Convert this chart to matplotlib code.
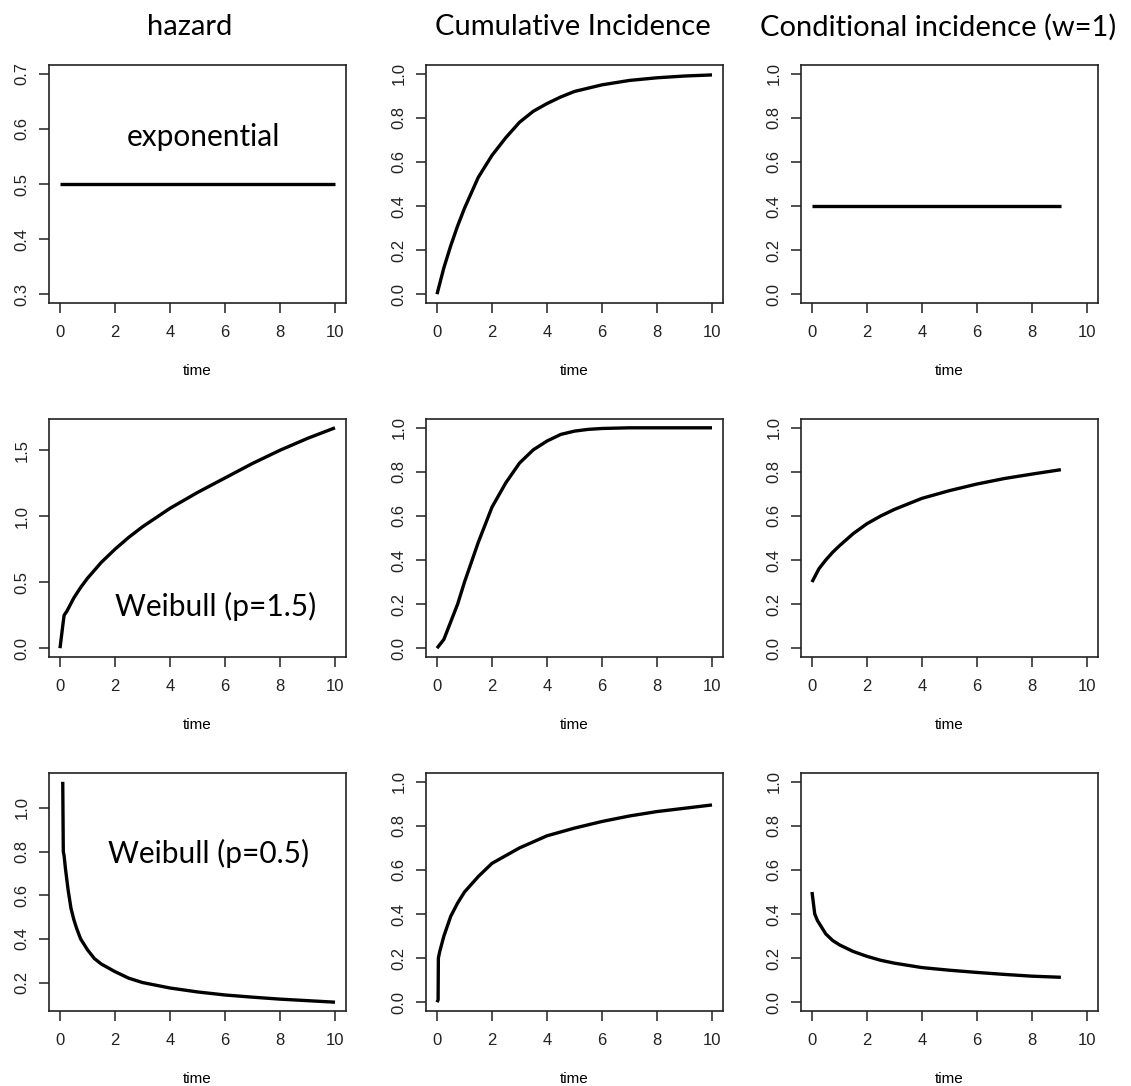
import matplotlib
matplotlib.use("Agg")
import matplotlib.pyplot as plt

# column titles and in-panel labels
col_titles = ['hazard', 'Cumulative Incidence', 'Conditional incidence (w=1)']
row_notes = ['exponential', 'Weibull (p=1.5)', 'Weibull (p=0.5)']

# row 1: exponential
exp_haz_t = [0, 10]
exp_haz_y = [0.5, 0.5]
exp_ci_t = [0, 0.25, 0.5, 0.75, 1, 1.25, 1.5, 1.75, 2, 2.5, 3, 3.5, 4, 4.5, 5, 5.5, 6, 7, 8, 9, 10]
exp_ci_y = [0, 0.12, 0.22, 0.31, 0.39, 0.46, 0.53, 0.58, 0.63, 0.71, 0.78, 0.83, 0.865, 0.895, 0.92, 0.935, 0.95, 0.97, 0.982, 0.99, 0.995]
exp_cond_t = [0, 9.05]
exp_cond_y = [0.4, 0.4]

# row 2: Weibull p=1.5
w15_haz_t = [0, 0.1, 0.15, 0.25, 0.5, 0.75, 1, 1.5, 2, 2.5, 3, 3.5, 4, 5, 6, 7, 8, 9, 10]
w15_haz_y = [0, 0.17, 0.25, 0.28, 0.38, 0.46, 0.53, 0.65, 0.75, 0.84, 0.92, 0.99, 1.06, 1.18, 1.29, 1.40, 1.50, 1.59, 1.67]
w15_ci_t = [0, 0.25, 0.5, 0.75, 1, 1.25, 1.5, 1.75, 2, 2.5, 3, 3.5, 4, 4.5, 5, 5.5, 6, 7, 8, 10]
w15_ci_y = [0, 0.04, 0.12, 0.2, 0.3, 0.39, 0.48, 0.56, 0.64, 0.75, 0.84, 0.90, 0.94, 0.97, 0.985, 0.993, 0.997, 1.0, 1.0, 1.0]
w15_cond_t = [0, 0.25, 0.5, 0.75, 1, 1.5, 2, 2.5, 3, 3.5, 4, 5, 6, 7, 8, 9.05]
w15_cond_y = [0.3, 0.36, 0.4, 0.435, 0.465, 0.52, 0.565, 0.6, 0.63, 0.655, 0.68, 0.715, 0.745, 0.77, 0.79, 0.81]

# row 3: Weibull p=0.5
w05_haz_t = [0.1, 0.12, 0.15, 0.2, 0.3, 0.4, 0.5, 0.6, 0.75, 1, 1.25, 1.5, 2, 2.5, 3, 4, 5, 6, 7, 8, 9, 10]
w05_haz_y = [1.12, 0.8, 0.78, 0.72, 0.62, 0.54, 0.49, 0.45, 0.40, 0.35, 0.31, 0.285, 0.25, 0.22, 0.20, 0.175, 0.157, 0.143, 0.133, 0.124, 0.117, 0.11]
w05_ci_t = [0, 0.04, 0.05, 0.1, 0.25, 0.5, 0.75, 1, 1.5, 2, 2.5, 3, 4, 5, 6, 7, 8, 9, 10]
w05_ci_y = [0, 0.01, 0.2, 0.23, 0.3, 0.39, 0.45, 0.5, 0.57, 0.63, 0.665, 0.70, 0.755, 0.79, 0.82, 0.845, 0.865, 0.88, 0.895]
w05_cond_t = [0, 0.05, 0.1, 0.2, 0.3, 0.5, 0.75, 1, 1.5, 2, 2.5, 3, 4, 5, 6, 7, 8, 9.05]
w05_cond_y = [0.5, 0.45, 0.4, 0.37, 0.35, 0.31, 0.28, 0.26, 0.23, 0.208, 0.19, 0.177, 0.157, 0.145, 0.135, 0.126, 0.118, 0.113]

curves = [
    [(exp_haz_t, exp_haz_y), (exp_ci_t, exp_ci_y), (exp_cond_t, exp_cond_y)],
    [(w15_haz_t, w15_haz_y), (w15_ci_t, w15_ci_y), (w15_cond_t, w15_cond_y)],
    [(w05_haz_t, w05_haz_y), (w05_ci_t, w05_ci_y), (w05_cond_t, w05_cond_y)],
]
y_ticks_first = [[0.3, 0.4, 0.5, 0.6, 0.7], [0.0, 0.5, 1.0, 1.5], [0.2, 0.4, 0.6, 0.8, 1.0]]
y_lims_first = [(0.3, 0.7), (0.0, 1.67), (0.11, 1.12)]
x_ticks = [0, 2, 4, 6, 8, 10]
note_pos = [(5.2, 0.585), (5.67, 0.314), (5.42, 0.793)]

W, H = 1131, 1086
fig = plt.figure(figsize=(W / 100, H / 100), dpi=100)

lefts = [49, 426, 801]
tops = [65, 419, 773]
aw, ah = 297, 238
title_x = [190, 573, 938]

for r in range(3):
    for c in range(3):
        ax = fig.add_axes([lefts[c] / W, 1 - (tops[r] + ah) / H, aw / W, ah / H])
        t, y = curves[r][c]
        ax.plot(t, y, color='black', lw=2.4, solid_capstyle='butt')
        ax.set_xlim(-0.4, 10.4)
        if c == 0:
            lo, hi = y_lims_first[r]
            yt = y_ticks_first[r]
        else:
            lo, hi = 0.0, 1.0
            yt = [0.0, 0.2, 0.4, 0.6, 0.8, 1.0]
        pad = (hi - lo) * 0.04
        ax.set_ylim(lo - pad, hi + pad)
        ax.set_xticks(x_ticks)
        ax.set_yticks(yt)
        ax.set_yticklabels(['%.1f' % v for v in yt], rotation=90, va='center')
        ax.tick_params(direction='out', length=7, width=1.1, labelsize=12, colors='#222222')
        ax.tick_params(axis='x', pad=9)
        ax.tick_params(axis='y', pad=7)
        for lab in ax.get_xticklabels() + ax.get_yticklabels():
            lab.set_family('Liberation Sans')
        for s in ax.spines.values():
            s.set_linewidth(1.2)
            s.set_color('#222222')
        ax.set_xlabel('time', family='Liberation Sans', fontsize=11, labelpad=17)
        if c == 0:
            ax.text(note_pos[r][0], note_pos[r][1], row_notes[r], ha='center', va='center',
                    family='Lato', fontsize=21.5)

for c in range(3):
    fig.text(title_x[c] / W, 1 - 27 / H, col_titles[c], ha='center', va='center',
             family='Lato', fontsize=21)

fig.savefig('out.png', dpi=100)
